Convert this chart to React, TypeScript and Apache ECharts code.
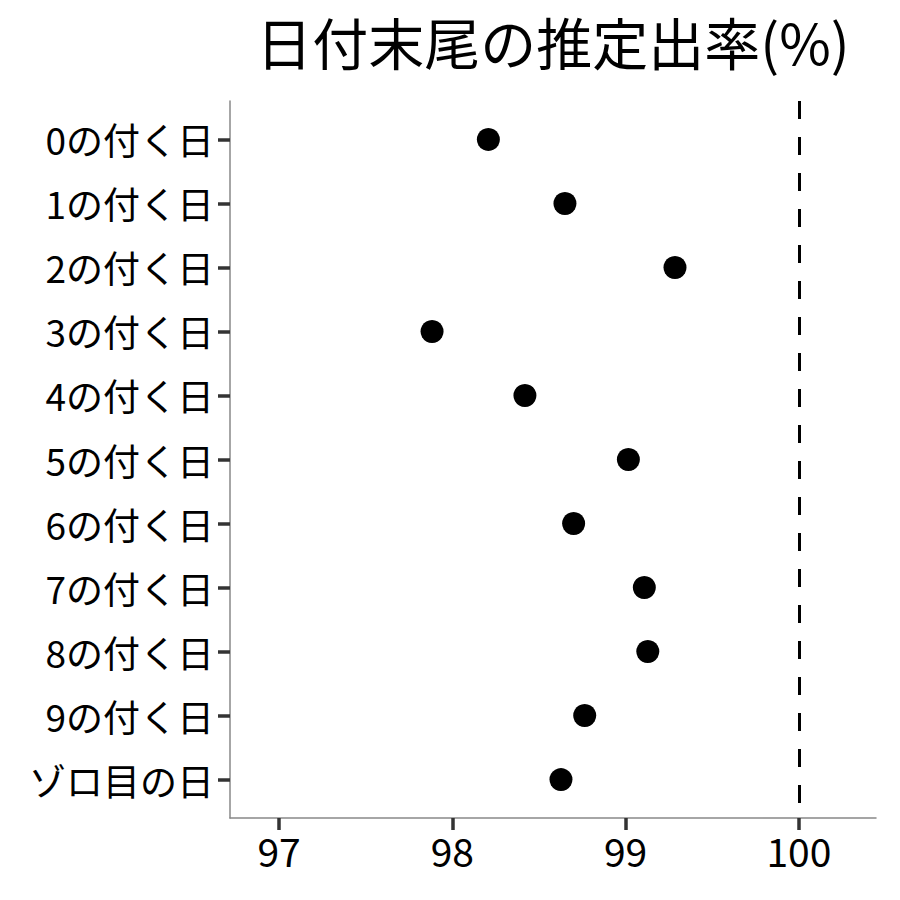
import React, { useEffect, useRef } from "react";
import * as echarts from "echarts";

const categories = [
  "0の付く日",
  "1の付く日",
  "2の付く日",
  "3の付く日",
  "4の付く日",
  "5の付く日",
  "6の付く日",
  "7の付く日",
  "8の付く日",
  "9の付く日",
  "ゾロ目の日",
];
const rates = [98.208, 98.65, 99.285, 97.883, 98.419, 99.016, 98.7, 99.108, 99.128, 98.764, 98.627];
const xTicks = [97, 98, 99, 100];
const referenceLine = 100;
const titleText = "日付末尾の推定出率(%)";

const FONT = "'Noto Sans CJK JP', 'Noto Sans', sans-serif";

export default function App() {
  const ref = useRef<HTMLDivElement>(null);
  useEffect(() => {
    if (!ref.current) return;
    const chart = echarts.init(ref.current, null, { renderer: "svg" });
    const positions = categories.map((_, i) => i + 1);
    chart.setOption({
      animation: false,
      backgroundColor: "#ffffff",
      title: {
        text: titleText,
        left: 553,
        textAlign: "center",
        top: 10,
        padding: 0,
        textStyle: { fontFamily: FONT, fontSize: 56, lineHeight: 60, fontWeight: "normal", color: "#000" },
      },
      grid: { left: 230, right: 24, top: 101, bottom: 82, containLabel: false },
      xAxis: {
        type: "value",
        min: 96.717,
        max: 100.445,
        axisLine: { show: true, lineStyle: { color: "#888", width: 1.5 } },
        axisTick: {
          show: true,
          length: 12,
          customValues: xTicks,
          lineStyle: { color: "#333", width: 3.5 },
        },
        axisLabel: {
          customValues: xTicks,
          fontFamily: FONT,
          fontSize: 39,
          color: "#000",
          margin: 12,
        },
        splitLine: { show: false },
      },
      yAxis: {
        type: "value",
        inverse: true,
        min: 0.4,
        max: 11.6,
        axisLine: { show: true, lineStyle: { color: "#888", width: 1.5 } },
        axisTick: {
          show: true,
          length: 12,
          customValues: positions,
          lineStyle: { color: "#333", width: 3.5 },
        },
        axisLabel: {
          customValues: positions,
          formatter: (v: number) => categories[Math.round(v) - 1] ?? "",
          fontFamily: FONT,
          fontSize: 37,
          color: "#000",
          margin: 16,
        },
        splitLine: { show: false },
      },
      series: [
        {
          type: "scatter",
          data: rates.map((r, i) => [r, positions[i]]),
          symbol: "circle",
          symbolSize: 23,
          itemStyle: { color: "#000", opacity: 1 },
          markLine: {
            silent: true,
            symbol: "none",
            label: { show: false },
            lineStyle: { color: "#000", width: 3, type: [18, 18] },
            data: [{ xAxis: referenceLine }],
          },
        },
      ],
    });
    return () => chart.dispose();
  }, []);
  return <div ref={ref} style={{ width: 900, height: 900, margin: -8 }} />;
}
